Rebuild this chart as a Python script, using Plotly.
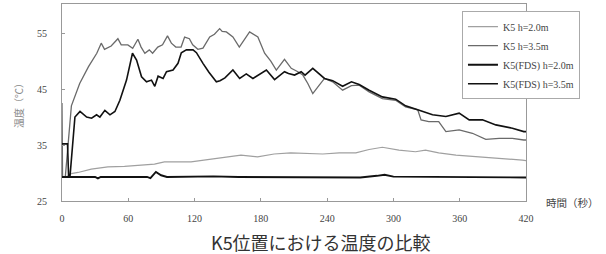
import plotly.graph_objects as go

# ---- data ----
x_ticks = [0, 60, 120, 180, 240, 300, 360, 420]
y_ticks = [25, 35, 45, 55]

t_k5_20 = [0, 5, 8.4, 14.5, 26.5, 41.5, 56.6, 71.6, 83.7, 92.7, 116.8, 131.8, 147, 162, 177, 192,
           207, 221, 236, 251, 266, 278, 290, 305, 320, 329, 341, 356.6, 371.5, 386.6, 401.7, 416.7, 420]
v_k5_20 = [29.3, 29.4, 29.9, 30.1, 30.7, 31.1, 31.2, 31.4, 31.6, 32.0, 32.0, 32.4, 32.8, 33.2, 32.9, 33.4,
           33.6, 33.5, 33.4, 33.6, 33.6, 34.2, 34.6, 34.1, 33.8, 34.1, 33.6, 33.2, 33.0, 32.8, 32.6, 32.3, 32.2]

t_k5_35 = [0, 0.5, 3, 8.5, 16, 24, 31.5, 35.5, 38.5, 44.5, 50.6, 53.6, 59.6, 64, 68.7, 71.6, 75, 79, 82,
           86.7, 91, 95.5, 99, 103, 107.8, 111, 115.3, 118.3, 123, 127.6, 133.7, 138, 142.7, 145, 148.8,
           154.7, 160.5, 165, 169.8, 177.3, 183.4, 189, 194, 201.4, 207.5, 213.5, 218, 222.5, 227, 232,
           237.6, 245, 254, 262, 269, 278, 290, 302, 311, 322, 325, 332, 341, 347.5, 359.5, 371.5, 383.6,
           395.7, 407.7, 418, 420]
v_k5_35 = [42.5, 29.3, 29.3, 42, 46, 49, 51.4, 53.2, 52.1, 52.7, 54.0, 52.9, 52.9, 52.3, 53.9, 52.5, 51.4,
           52, 51.4, 52.5, 52.9, 54.5, 53.2, 52.5, 52.5, 54.3, 54.0, 52.9, 52.1, 52.3, 54.3, 54.8, 55.8,
           55.3, 55.2, 54.3, 52.5, 53.8, 55.2, 54.3, 51.4, 50, 48.4, 50.3, 48.7, 48.1, 47.5, 46.0, 44.2,
           45.5, 46.9, 46.3, 44.8, 45.6, 45.7, 44.5, 43.3, 43.0, 41.8, 41.3, 39.5, 39.2, 39.2, 37.4, 37.7,
           37.1, 36.0, 36.2, 36.2, 35.9, 35.9]

t_fds_20 = [0, 30, 32.5, 35, 77, 80, 85, 89.7, 95, 137, 160, 240, 250, 270, 285, 292, 300, 380, 420]
v_fds_20 = [29.3, 29.3, 29.05, 29.3, 29.3, 29.1, 30.2, 29.6, 29.3, 29.4, 29.3, 29.2, 29.1, 29.2, 29.5,
            29.7, 29.35, 29.3, 29.2]

t_fds_35 = [0, 5, 6, 7.2, 11.7, 16.3, 22.3, 26.8, 31.3, 34.3, 38.8, 43.4, 47.9, 52.4, 58.4, 63.8, 67.5,
            72, 76.5, 81, 84, 87, 91.5, 94.6, 100.5, 105, 108, 112.6, 118.6, 121.7, 127.6, 133, 139.7,
            143, 147.5, 154.7, 160.8, 166.8, 172.8, 178, 185, 192.4, 201.4, 205, 210.5, 216.5, 220, 227,
            232, 237.6, 245, 250, 254, 262, 269, 278, 290, 302, 311, 322, 335.4, 347.5, 359.5, 368.6,
            380.6, 392.7, 407.7, 418, 420]
v_fds_35 = [35.2, 35.2, 29.3, 29.3, 40, 41, 40.0, 39.8, 40.4, 40.0, 41.2, 40.4, 41, 43.0, 46.6, 51.4, 50.2,
            47.2, 46.3, 46.6, 45.5, 47.3, 46.9, 48.1, 48.4, 49.6, 51.5, 52, 52, 51.5, 49.6, 48, 46.3,
            46.5, 47, 48.4, 46.9, 47.7, 46.9, 47.5, 48.4, 46.7, 48.1, 47.8, 47.5, 48.1, 47.5, 48.7,
            47.8, 46.9, 46.5, 46.0, 45.5, 46.3, 45.8, 44.8, 43.6, 43.2, 42.0, 41.3, 40.4, 40.1, 40.7,
            39.5, 39.5, 38.6, 38.0, 37.4, 37.4]

names = ["K5 h=2.0m", "K5 h=3.5m", "K5(FDS) h=2.0m", "K5(FDS) h=3.5m"]

serif = "Liberation Serif, Times New Roman, serif"
cjk = "Noto Sans CJK JP"

fig = go.Figure()
fig.add_trace(go.Scatter(x=t_k5_20, y=v_k5_20, mode="lines", name=names[0],
                         line=dict(color="#a0a0a0", width=1.2)))
fig.add_trace(go.Scatter(x=t_k5_35, y=v_k5_35, mode="lines", name=names[1],
                         line=dict(color="#6a6a6a", width=1.3)))
fig.add_trace(go.Scatter(x=t_fds_20, y=v_fds_20, mode="lines", name=names[2],
                         line=dict(color="#111111", width=1.9)))
fig.add_trace(go.Scatter(x=t_fds_35, y=v_fds_35, mode="lines", name=names[3],
                         line=dict(color="#111111", width=1.6)))

fig.update_layout(
    width=606, height=254,
    margin=dict(l=62, r=80, t=4, b=53),
    paper_bgcolor="white", plot_bgcolor="white",
    showlegend=True,
    legend=dict(x=0.862, y=0.74, xanchor="left", yanchor="middle",
                bgcolor="white", bordercolor="#aaaaaa", borderwidth=1,
                font=dict(family=serif, size=10, color="#444444"),
                tracegroupgap=0, itemwidth=30),
)
fig.update_xaxes(range=[0, 420], tickvals=x_ticks, ticktext=[str(v) for v in x_ticks],
                 showgrid=False, zeroline=False, showline=True, mirror=True,
                 linecolor="#999999", linewidth=1, ticks="inside", ticklen=3, tickcolor="#999999",
                 tickfont=dict(family=serif, size=10, color="#444444"), ticklabelstandoff=8)
fig.update_yaxes(range=[25, 60.2], tickvals=y_ticks, ticktext=[str(v) for v in y_ticks],
                 showgrid=False, zeroline=False, showline=True, mirror=True,
                 linecolor="#999999", linewidth=1, ticks="inside", ticklen=3, tickcolor="#999999",
                 tickfont=dict(family=serif, size=10, color="#444444"), ticklabelstandoff=12)

fig.add_annotation(text="K5位置における温度の比較", xref="paper", yref="paper", x=0.558, y=-0.208,
                   showarrow=False, xanchor="center", yanchor="middle",
                   font=dict(family=cjk, size=18, color="#333333"))
fig.add_annotation(text="温度（℃）", xref="paper", yref="paper", x=-0.095, y=0.497, textangle=-90,
                   showarrow=False, xanchor="center", yanchor="middle",
                   font=dict(family=cjk, size=10, color="#888888"))
fig.add_annotation(text="時間（秒）", xref="paper", yref="paper", x=1.038, y=-0.01,
                   showarrow=False, xanchor="left", yanchor="middle",
                   font=dict(family=cjk, size=10.5, color="#444444"))

fig.write_html("out.html", config={"displayModeBar": False},
               post_script="document.body.style.margin='0';")
